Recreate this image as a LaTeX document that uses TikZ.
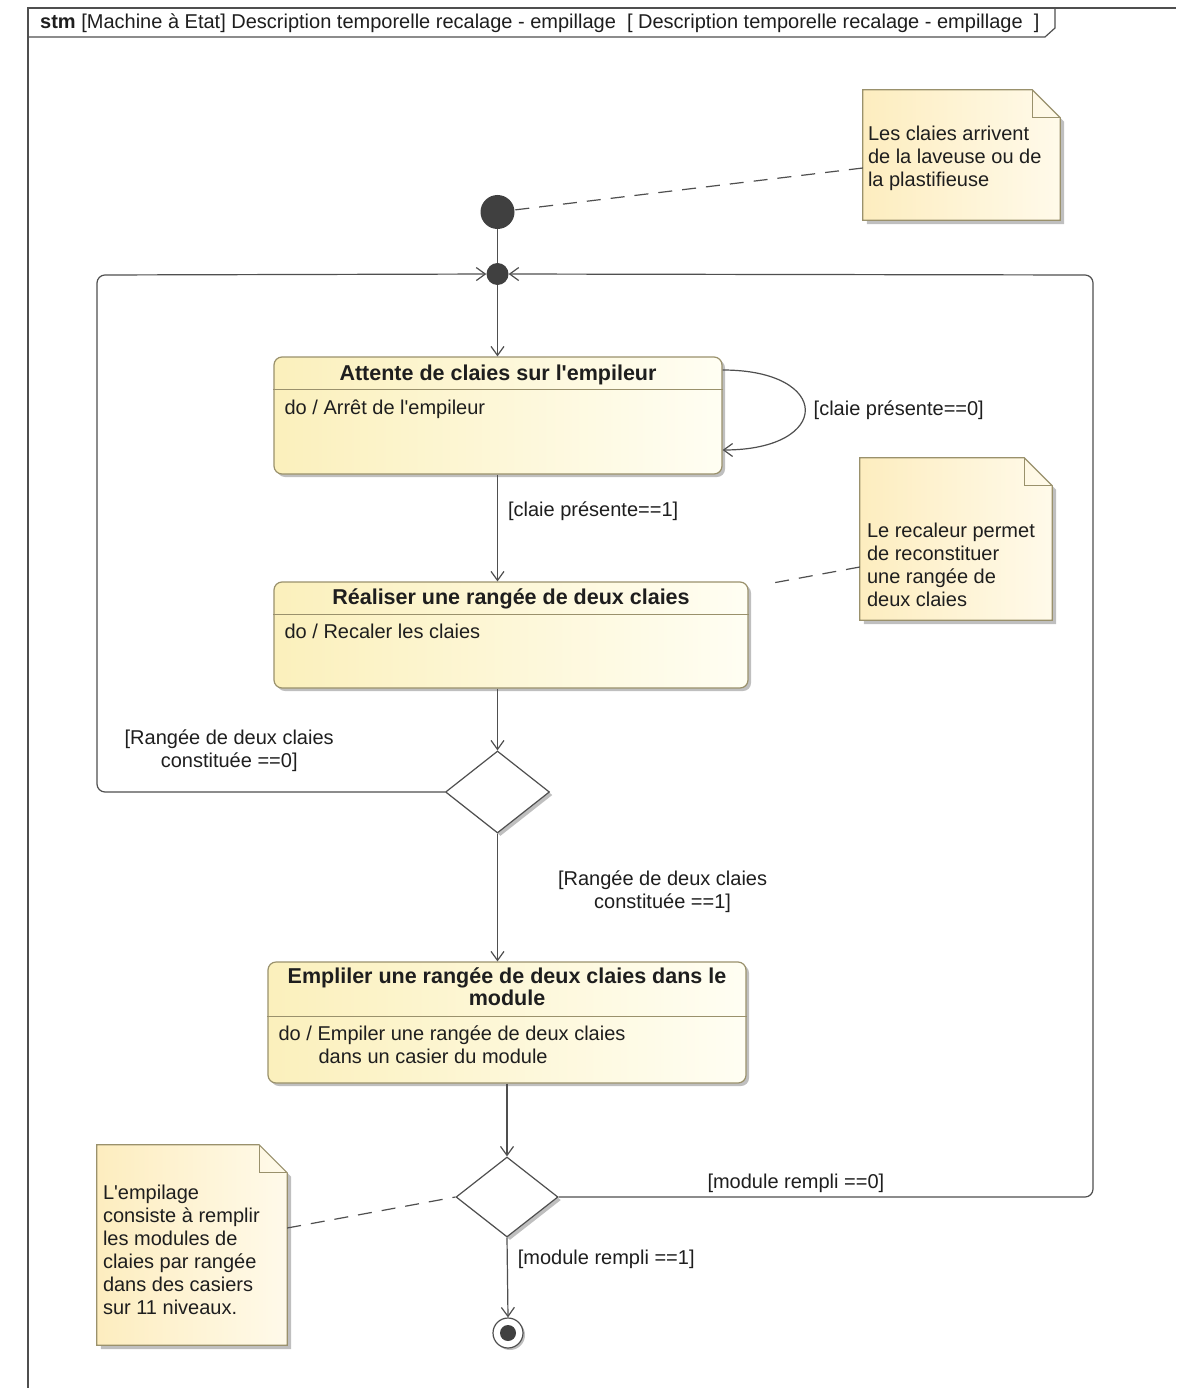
\documentclass[tikz,border=0pt]{standalone}
\usepackage{fontspec}
\setmainfont{Liberation Sans}[Ligatures=TeXOff]
\usetikzlibrary{positioning, arrows.meta, shapes.geometric, shadows}

\definecolor{umlline}{HTML}{4F4F4F}
\definecolor{umlborder}{HTML}{9A916C}
\definecolor{stateyellow}{HTML}{FBF0BC}
\definecolor{statewhite}{HTML}{FFFEF3}
\definecolor{noteyellow}{HTML}{FDEDBF}
\definecolor{notewhite}{HTML}{FFFAEA}
\definecolor{umltext}{HTML}{1E1E1E}

\begin{document}
\begin{tikzpicture}[
    x=1pt, y=1pt,
    font=\fontsize{20}{23}\selectfont,
    text=umltext,
    frame/.style={
        draw=umlline,
        line width=1.2pt
    },
    state/.style={
        rectangle,
        rounded corners=8pt,
        draw=umlborder,
        line width=1.2pt,
        left color=stateyellow,
        right color=statewhite,
        drop shadow={shadow xshift=3pt, shadow yshift=-3pt, fill=black!50, opacity=.5}
    },
    stitle/.style={
        anchor=north,
        align=center,
        inner sep=0pt,
        font=\fontsize{21.5}{22}\selectfont\bfseries
    },
    sbody/.style={
        anchor=north west,
        align=left,
        inner sep=0pt
    },
    divider/.style={
        draw=umlborder,
        line width=1pt
    },
    decision/.style={
        diamond,
        draw=umlline,
        line width=1.2pt,
        fill=white,
        inner sep=0pt,
        minimum width=104pt,
        minimum height=82pt,
        drop shadow={shadow xshift=3pt, shadow yshift=-3pt, fill=black!50, opacity=.5}
    },
    initial/.style={
        circle,
        fill=black!75,
        inner sep=0pt
    },
    final/.style={
        circle,
        draw=umlline,
        line width=1.2pt,
        fill=white,
        inner sep=0pt,
        minimum size=30pt,
        drop shadow={shadow xshift=2pt, shadow yshift=-2pt, fill=black!50, opacity=.5},
        path picture={\fill[black!75] (path picture bounding box.center) circle (8pt);}
    },
    notearea/.style={
        rectangle,
        inner sep=0pt
    },
    notebox/.style={
        draw=umlborder,
        line width=1.2pt,
        left color=noteyellow,
        right color=notewhite,
        drop shadow={shadow xshift=4pt, shadow yshift=-4pt, fill=black!50, opacity=.5}
    },
    notetext/.style={
        anchor=north west,
        align=left,
        inner sep=0pt
    },
    trans/.style={
        draw=umlline,
        line width=1.2pt,
        -{Straight Barb[length=9pt, width=13pt]}
    },
    link/.style={
        draw=umlline,
        line width=1.2pt
    },
    anchorline/.style={
        draw=umlline,
        line width=1.2pt,
        dash pattern=on 14pt off 10pt
    },
    guard/.style={
        align=center,
        inner sep=2pt
    }
]

\useasboundingbox[fill=white] (0,0) rectangle (1176,-1388);

% Frame and header
\draw[frame] (28,-1388) -- (28,-8) -- (1176,-8);
\draw[frame] (28,-37) -- (1045,-37) -- (1055,-28) -- (1055,-8);
\node[anchor=base west, inner sep=0pt] (header) at (40,-29) {\textbf{stm} [Machine à Etat] Description temporelle recalage - empillage~~[ Description temporelle recalage - empillage~~]};

% Pseudo states
\node[initial, minimum size=34pt] (init) at (497.5,-212) {};
\node[initial, minimum size=22pt] (junc) at (497.5,-274) {};
\node[final] (stop) at (508,-1333) {};

% States
\node[state, minimum width=448pt, minimum height=117pt] (s1) at (498,-415.5) {};
\node[stitle, below=8pt of s1.north] (s1title) {Attente de claies sur l'empileur};
\draw[divider] ([yshift=-33pt]s1.north west) -- ([yshift=-33pt]s1.north east);
\node[sbody, below right=43pt and 11pt of s1.north west] (s1body) {do / Arrêt de l'empileur};

\node[state, minimum width=474pt, minimum height=106pt] (s2) at (511,-635) {};
\node[stitle, below=7pt of s2.north] (s2title) {Réaliser une rangée de deux claies};
\draw[divider] ([yshift=-33pt]s2.north west) -- ([yshift=-33pt]s2.north east);
\node[sbody, below right=42pt and 11pt of s2.north west] (s2body) {do / Recaler les claies};

\node[state, minimum width=478pt, minimum height=121pt] (s3) at (507,-1022.5) {};
\node[stitle, below=6pt of s3.north] (s3title) {Empliler une rangée de deux claies dans le\\module};
\draw[divider] ([yshift=-55pt]s3.north west) -- ([yshift=-55pt]s3.north east);
\node[sbody, below right=64pt and 11pt of s3.north west] (s3body) {do / Empiler une rangée de deux claies\\\hspace*{40pt}dans un casier du module};

% Decisions
\node[decision] (dec1) at (497.5,-792) {};
\node[decision, minimum width=102pt, minimum height=80pt] (dec2) at (507,-1197) {};

% Notes
\node[notearea, minimum width=197pt, minimum height=130pt] (noteA) at (961.5,-155) {};
\node[notearea, minimum width=192pt, minimum height=162pt] (noteB) at (956,-539) {};
\node[notearea, minimum width=190pt, minimum height=200pt] (noteC) at (192,-1245) {};
\foreach \n in {noteA, noteB, noteC} {
    \draw[notebox] (\n.south west) -- (\n.north west) -- ([xshift=-28pt]\n.north east)
        -- ([yshift=-28pt]\n.north east) -- (\n.south east) -- cycle;
    \draw[divider] ([xshift=-28pt]\n.north east) |- ([yshift=-28pt]\n.north east);
}
\node[notetext, below right=36pt and 5pt of noteA.north west] (noteAtext) {Les claies arrivent\\de la laveuse ou de\\la plastifieuse};
\node[notetext, below right=65pt and 7pt of noteB.north west] (noteBtext) {Le recaleur permet\\de reconstituer\\une rangée de\\deux claies};
\node[notetext, below right=40pt and 6pt of noteC.north west] (noteCtext) {L'empilage\\consiste à remplir\\les modules de\\claies par rangée\\dans des casiers\\sur 11 niveaux.};

% Loop corners
\coordinate (loopL) at (97,-275);
\coordinate (loopR) at (1093,-275);

% Transitions
\draw[link] (init) -- (junc);
\draw[trans] (junc) -- (junc |- s1.north);
\draw[trans] ([yshift=45.5pt]s1.east) .. controls +(110,0) and +(110,0) .. ([yshift=-34.5pt]s1.east)
    node[guard, pos=.5, right=6pt] {[claie présente==0]};
\draw[trans] (junc |- s1.south) -- (junc |- s2.north)
    node[guard, pos=.34, right=8pt] {[claie présente==1]};
\draw[trans] (s2.south -| dec1) -- (dec1.north);
\draw[trans, rounded corners=8pt] (dec1.west)
    -| node[guard, pos=.31, above=18pt] {[Rangée de deux claies\\constituée ==0]} (loopL)
    -- (junc);
\draw[trans] (dec1.south) -- (dec1.south |- s3.north)
    node[guard, pos=.457, right=58pt] {[Rangée de deux claies\\constituée ==1]};
\draw[trans] (s3.south) -- (dec2.north);
\draw[trans, rounded corners=8pt] (dec2.east)
    -| node[guard, pos=.222, above=2pt] {[module rempli ==0]} (loopR)
    -- (junc);
\draw[trans] (dec2.south) -- (stop.north)
    node[guard, pos=.27, right=8pt] {[module rempli ==1]};

% Note anchors
\draw[anchorline] ([yshift=-13pt]noteA.west) -- (init);
\draw[anchorline] ([yshift=-28pt]noteB.west) -- ([xshift=22pt, yshift=-2pt]s2.north east);
\draw[anchorline] ([yshift=17pt]noteC.east) -- (dec2.west);

\end{tikzpicture}
\end{document}
